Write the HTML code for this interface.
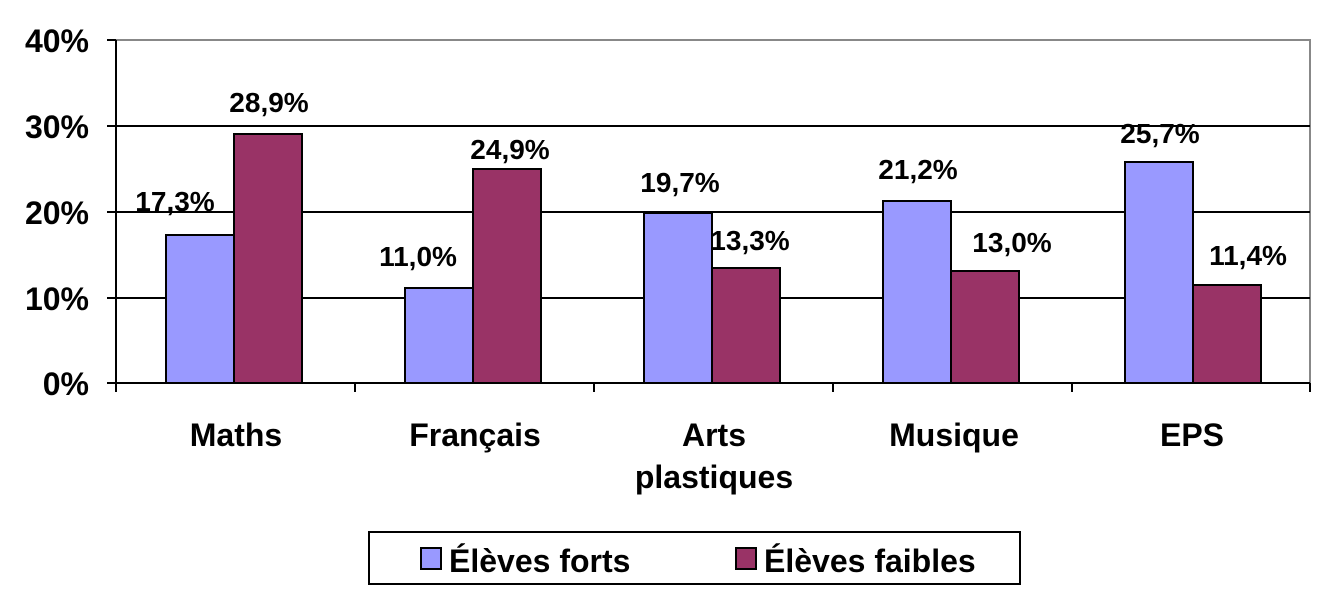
<!DOCTYPE html>
<html><head><meta charset="utf-8"><style>
html,body{margin:0;padding:0;background:#fff;}
svg{display:block;}
text{font-family:"Liberation Sans",Arial,sans-serif;font-weight:bold;font-size:28px;fill:#000;}
.ax{font-size:32px;}
.cat{font-size:32px;}
.lg{font-size:32px;}
</style></head><body>
<svg width="1332" height="590" viewBox="0 0 1332 590">
<rect x="116" y="40" width="1194" height="343" fill="#fff" stroke="#888" stroke-width="2"/>
<g stroke="#000" stroke-width="2">
<line x1="116" y1="126" x2="1310" y2="126"/>
<line x1="116" y1="212" x2="1310" y2="212"/>
<line x1="116" y1="298" x2="1310" y2="298"/>
</g>
<g stroke="#000" stroke-width="2">
<rect x="166" y="235" width="68" height="148" fill="#9999ff"/>
<rect x="234" y="134" width="68" height="249" fill="#993366"/>
<rect x="405" y="288" width="68" height="95" fill="#9999ff"/>
<rect x="473" y="169" width="68" height="214" fill="#993366"/>
<rect x="644" y="213" width="68" height="170" fill="#9999ff"/>
<rect x="712" y="268" width="68" height="115" fill="#993366"/>
<rect x="883" y="201" width="68" height="182" fill="#9999ff"/>
<rect x="951" y="271" width="68" height="112" fill="#993366"/>
<rect x="1125" y="162" width="68" height="221" fill="#9999ff"/>
<rect x="1193" y="285" width="68" height="98" fill="#993366"/>
</g>
<g stroke="#000" stroke-width="2">
<line x1="116" y1="40" x2="116" y2="392"/>
<line x1="116" y1="383" x2="1310" y2="383"/>
<line x1="107" y1="40" x2="116" y2="40"/>
<line x1="107" y1="126" x2="116" y2="126"/>
<line x1="107" y1="212" x2="116" y2="212"/>
<line x1="107" y1="298" x2="116" y2="298"/>
<line x1="107" y1="383" x2="116" y2="383"/>
<line x1="355" y1="383" x2="355" y2="392"/>
<line x1="594" y1="383" x2="594" y2="392"/>
<line x1="833" y1="383" x2="833" y2="392"/>
<line x1="1072" y1="383" x2="1072" y2="392"/>
<line x1="1310" y1="383" x2="1310" y2="392"/>
</g>
<g text-anchor="end">
<text class="ax" x="89" y="52">40%</text>
<text class="ax" x="89" y="138">30%</text>
<text class="ax" x="89" y="224">20%</text>
<text class="ax" x="89" y="310">10%</text>
<text class="ax" x="89" y="395">0%</text>
</g>
<g text-anchor="middle">
<text x="175" y="211">17,3%</text>
<text x="269" y="112">28,9%</text>
<text x="418" y="266">11,0%</text>
<text x="510" y="159">24,9%</text>
<text x="680" y="192">19,7%</text>
<text x="750" y="250">13,3%</text>
<text x="918" y="179">21,2%</text>
<text x="1012" y="252">13,0%</text>
<text x="1160" y="143">25,7%</text>
<text x="1248" y="265">11,4%</text>
<text class="cat" x="236" y="446">Maths</text>
<text class="cat" x="475" y="446">Français</text>
<text class="cat" x="714" y="446">Arts</text>
<text class="cat" x="714" y="488">plastiques</text>
<text class="cat" x="954" y="446">Musique</text>
<text class="cat" x="1192" y="446">EPS</text>
</g>
<rect x="369" y="532" width="651" height="52" fill="#fff" stroke="#000" stroke-width="2"/>
<rect x="421" y="548" width="20" height="21" fill="#9999ff" stroke="#000" stroke-width="2"/>
<text class="lg" x="449" y="572">Élèves forts</text>
<rect x="736" y="548" width="20" height="21" fill="#993366" stroke="#000" stroke-width="2"/>
<text class="lg" x="764" y="572">Élèves faibles</text>
</svg>
</body></html>
